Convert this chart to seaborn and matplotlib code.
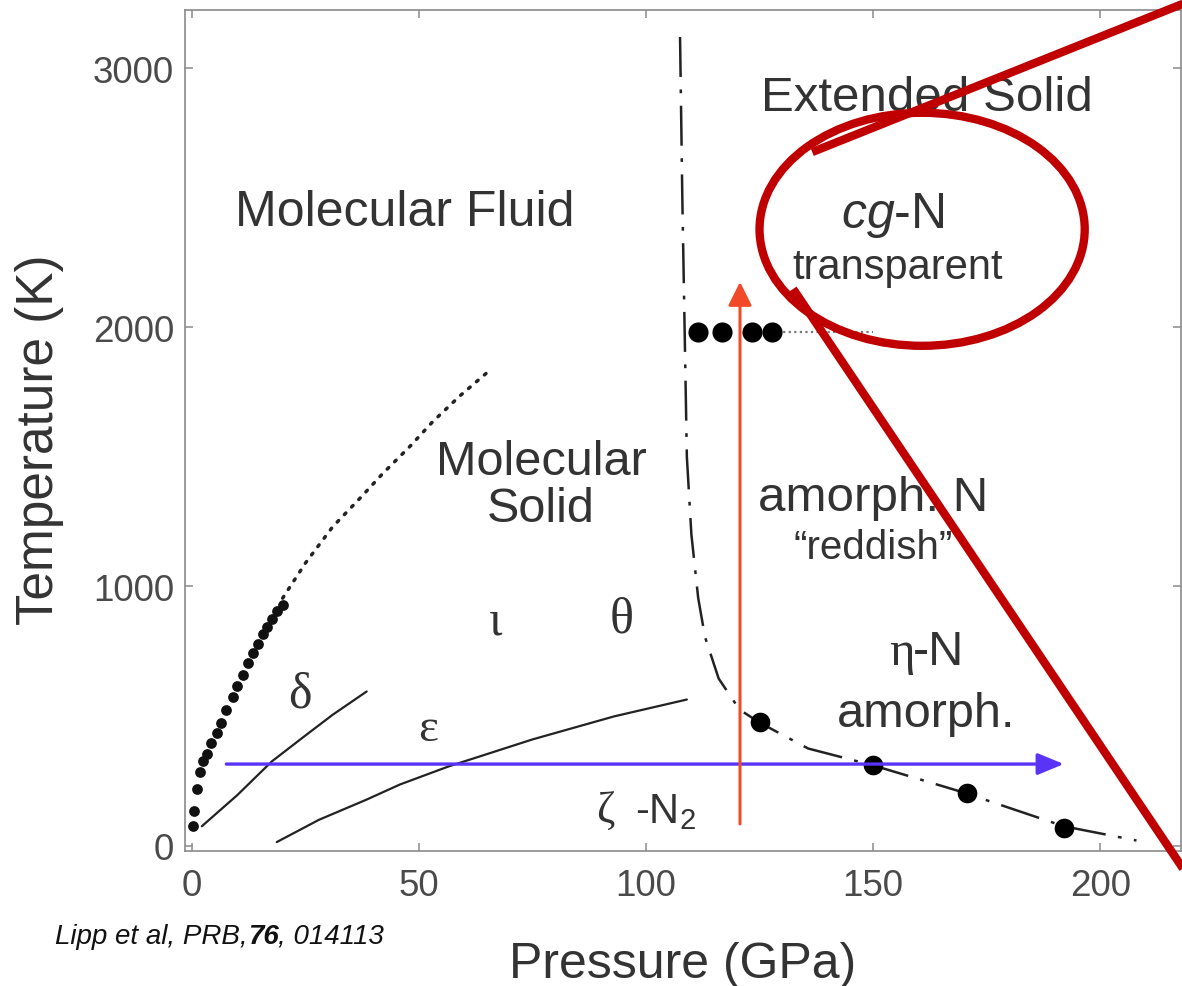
import numpy as np
import pandas as pd
import matplotlib
matplotlib.use("Agg")
import matplotlib.pyplot as plt
import seaborn as sns
from matplotlib.patches import Ellipse
from matplotlib.offsetbox import TextArea, HPacker, AnnotationBbox

# ---------------- data ----------------
melt_pts_p = [0.2, 0.5, 1.1, 1.8, 2.5, 3.3, 4.2, 5.5, 6.5, 7.5, 9.0, 10.0, 11.3,
              12.3, 13.4, 14.5, 15.6, 16.5, 17.6, 18.8, 20.0]
melt_pts_t = [75, 135, 217, 285, 325, 352, 395, 433, 475, 525, 575, 615, 660,
              705, 742, 780, 815, 845, 876, 905, 930]
melt_line_p = [20, 25, 31, 37, 42, 48, 53, 59, 66]
melt_line_t = [955, 1090, 1230, 1340, 1435, 1540, 1635, 1735, 1840]
delta_p = [2.2, 10, 17.6, 25, 31, 38.5]
delta_t = [75, 195, 325, 425, 505, 595]
eps_p = [18.7, 28, 38.5, 45.8, 56.4, 75, 93, 109]
eps_t = [14, 100, 178, 236, 305, 410, 499, 564]
bound_p = [107.5, 108, 108.5, 109, 110, 111.5, 113, 116, 120.6, 125, 135.7,
           150, 170, 192, 208]
bound_t = [3120, 2500, 2000, 1500, 1200, 955, 805, 645, 525, 475, 375,
           310, 205, 75, 20]
amorph_pts_p = [125, 150, 170.6, 192]
amorph_pts_t = [479, 313, 202, 68]
cg_pts_p = [111.5, 116.8, 123.3, 127.8]
cg_pts_t = [1983, 1983, 1983, 1983]
cg_dotted_p = [127.8, 150]
cg_dotted_t = [1983, 1983]
blue_arrow_p = [7.6, 192]
blue_arrow_t = [315, 315]
red_arrow_p = [120.7, 120.7]
red_arrow_t = [84, 2175]

# highlight annotation (ellipse + two leader lines), data coordinates
ellipse_center = (160.8, 2378)
ellipse_size = (71.6, 899)
leader_up_p = [136.6, 222.5]
leader_up_t = [2676, 3278]
leader_dn_p = [132.4, 222.0]
leader_dn_t = [2148, -186]

x_ticks = [0, 50, 100, 150, 200]
y_ticks = [0, 1000, 2000, 3000]

# ---------------- style ----------------
sns.set_theme(style="ticks")
plt.rcParams["font.family"] = ["Liberation Sans", "DejaVu Sans"]
plt.rcParams["mathtext.fontset"] = "custom"
plt.rcParams["mathtext.rm"] = "Liberation Sans"
plt.rcParams["mathtext.it"] = "Liberation Sans:italic"
plt.rcParams["mathtext.bf"] = "Liberation Sans:bold"

TXT = "#333333"
GRAY = "#8a8a8a"

fig = plt.figure(figsize=(11.82, 9.87), dpi=100)
ax = fig.add_axes([185 / 1182, 1 - 852 / 987, (1181 - 185) / 1182, (852 - 11) / 987])

# melting curve
sns.lineplot(x=melt_line_p, y=melt_line_t, ax=ax, color="#222222", lw=2.5,
             linestyle=(0, (0.6, 2.4)), dash_capstyle="round",
             estimator=None, sort=False)
sns.scatterplot(x=melt_pts_p, y=melt_pts_t, ax=ax, color="#111111", s=60,
                linewidth=0, zorder=4)

# delta and epsilon boundaries
sns.lineplot(x=delta_p, y=delta_t, ax=ax, color="#222222", lw=1.6,
             estimator=None, sort=False)
sns.lineplot(x=eps_p, y=eps_t, ax=ax, color="#222222", lw=1.6,
             estimator=None, sort=False)

# molecular / extended boundary (dash-dot)
sns.lineplot(x=bound_p, y=bound_t, ax=ax, color="#222222", lw=1.8,
             linestyle=(0, (16, 5, 1.5, 5)), estimator=None, sort=False)

# data points
sns.scatterplot(x=amorph_pts_p, y=amorph_pts_t, ax=ax, color="black", s=200,
                linewidth=0, zorder=5)
sns.lineplot(x=cg_dotted_p, y=cg_dotted_t, ax=ax, color="#777777", lw=1.6,
             linestyle=(0, (1, 1.5)), estimator=None, sort=False)
sns.scatterplot(x=cg_pts_p, y=cg_pts_t, ax=ax, color="black", s=210,
                linewidth=0, zorder=5)

# arrows
ax.annotate("", xy=(blue_arrow_p[1], blue_arrow_t[1]),
            xytext=(blue_arrow_p[0], blue_arrow_t[0]),
            arrowprops=dict(arrowstyle="-|>,head_length=0.8,head_width=0.33",
                            mutation_scale=20, color="#5a34f6", lw=2.4,
                            shrinkA=0, shrinkB=0), zorder=6)
ax.annotate("", xy=(red_arrow_p[1], red_arrow_t[1]),
            xytext=(red_arrow_p[0], red_arrow_t[0]),
            arrowprops=dict(arrowstyle="-|>,head_length=0.72,head_width=0.36",
                            mutation_scale=20, color="#f24a28", lw=2.2,
                            shrinkA=0, shrinkB=0), zorder=6)

# region labels
ax.text(46.9, 2445, "Molecular Fluid", fontsize=36, color=TXT, ha="center", va="center")
ax.text(161.8, 2888, "Extended Solid", fontsize=35.5, color=TXT, ha="center", va="center")
ax.text(154.4, 2437, r"$\mathit{cg}$-N", fontsize=36, color=TXT, ha="center", va="center")
ax.text(155.5, 2233, "transparent", fontsize=30, color=TXT, ha="center", va="center")
ax.text(76.9, 1392, "Molecular\nSolid", fontsize=35, color=TXT, ha="center",
        va="center", linespacing=1.05)
ax.text(150, 1345, "amorph. N", fontsize=35.5, color=TXT, ha="center", va="center")
ax.text(150, 1152, "\u201creddish\u201d", fontsize=29, color=TXT, ha="center", va="center")
ax.text(153.5, 700, "\u03b7", fontsize=35, color=TXT, ha="left", va="baseline",
        family="Liberation Serif")
ax.text(158.8, 700, "-N", fontsize=35, color=TXT, ha="left", va="baseline")
ax.text(161.7, 462, "amorph.", fontsize=35, color=TXT, ha="center", va="baseline")

serif = dict(family="Liberation Serif", color=TXT, ha="center", va="center")
ax.text(23.8, 585, "\u03b4", fontsize=36, **serif)
ax.text(67, 865, "\u03b9", fontsize=36, **serif)
ax.text(94.7, 875, "\u03b8", fontsize=36, **serif)
ax.text(52, 452, "\u03b5", fontsize=34, **serif)
ax.text(91, 92, "\u03b6", fontsize=32, color=TXT, ha="center", va="baseline",
        family="Liberation Serif")
ax.text(97.6, 92, r"-N$_2$", fontsize=30, color=TXT, ha="left", va="baseline")

# red highlight annotation
ax.add_patch(Ellipse(ellipse_center, ellipse_size[0], ellipse_size[1],
                     fill=False, edgecolor="#c00000", lw=6, zorder=10,
                     clip_on=False))
ax.plot(leader_up_p, leader_up_t, color="#c00000", lw=6, zorder=10,
        clip_on=False, solid_capstyle="butt")
ax.plot(leader_dn_p, leader_dn_t, color="#c00000", lw=6, zorder=10,
        clip_on=False, solid_capstyle="butt")

# axes
ax.set_xlim(-1.5, 217.8)
ax.set_ylim(-20.4, 3224)
ax.set_xticks(x_ticks)
ax.set_yticks(y_ticks)
ax.set_xticklabels([str(v) for v in x_ticks])
ax.set_yticklabels([str(v) for v in y_ticks])
for s in ax.spines.values():
    s.set_visible(True)
    s.set_color(GRAY)
    s.set_linewidth(1.2)
ax.tick_params(direction="in", length=6, width=1.1, color=GRAY,
               labelcolor="#4a4a4a", labelsize=26.5, top=True, right=True,
               labeltop=False, labelright=False)
ax.tick_params(axis="x", pad=12)
ax.tick_params(axis="y", pad=8)

ax.set_xlabel("Pressure (GPa)", fontsize=36, color=TXT)
ax.set_ylabel("Temperature (K)", fontsize=37, color=TXT)
ax.xaxis.set_label_coords(0.5, (852 - 942) / 841)
ax.yaxis.set_label_coords((64 - 185) / 996, (852 - 440) / 841)

# citation
parts = [TextArea("Lipp et al, PRB,", textprops=dict(style="italic", size=20, color="#111111")),
         TextArea("76", textprops=dict(style="italic", weight="bold", size=20, color="#111111")),
         TextArea(", 014113", textprops=dict(style="italic", size=20, color="#111111"))]
box = HPacker(children=parts, align="baseline", pad=0, sep=0)
ab = AnnotationBbox(box, (55 / 1182, 1 - 937 / 987), xycoords="figure fraction",
                    box_alignment=(0, 0.5), frameon=False)
fig.add_artist(ab)

fig.savefig("out.png", dpi=100)
